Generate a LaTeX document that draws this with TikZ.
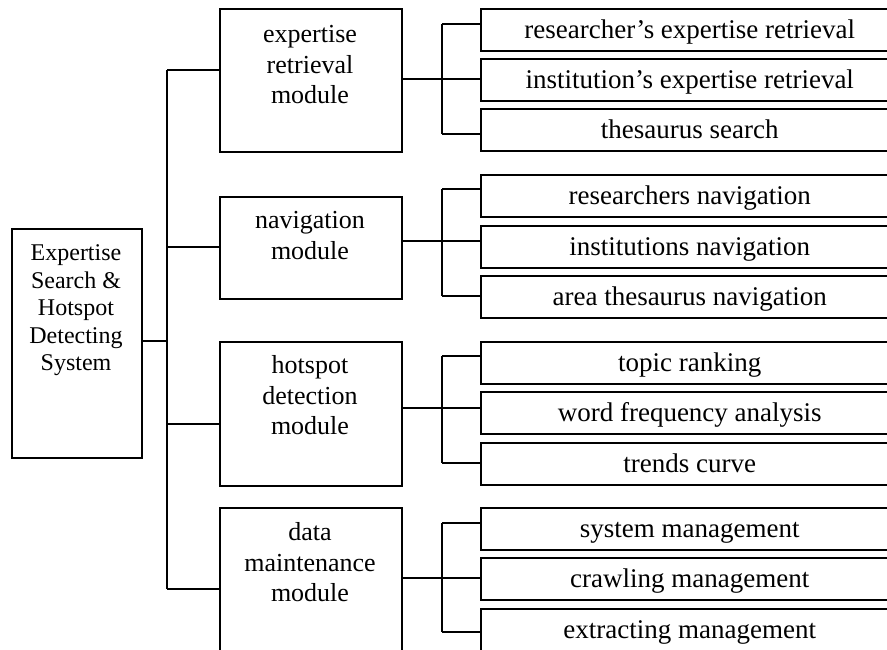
\documentclass[tikz,border=0pt]{standalone}
\usepackage{fontspec}
\setmainfont{Liberation Serif}
\begin{document}
\begin{tikzpicture}[x=1pt,y=-1pt,line width=1.5pt,
  box/.style={draw,rectangle,inner sep=0pt,anchor=north west,minimum width=182pt},
  rootbox/.style={draw,rectangle,inner sep=0pt,anchor=north west,minimum width=130pt,minimum height=229pt},
  modtext/.style={inner sep=0pt,anchor=north,align=center,font=\fontsize{26}{30.5}\selectfont},
  roottext/.style={inner sep=0pt,anchor=north,align=center,font=\fontsize{24}{27.5}\selectfont},
  leaf/.style={draw,rectangle,inner xsep=0pt,inner ysep=0pt,anchor=north west,minimum width=418pt,
    text height=29.5pt,text depth=12.5pt,font=\fontsize{27}{30}\selectfont},
  wire/.style={draw,line width=1.5pt}]
\useasboundingbox (0,0) rectangle (887,649);
\clip (0,0) rectangle (887,649);
% root
\node[rootbox] (root) at (11,228) {};
\node[roottext] (roott) at (76,236) {\rule{0pt}{24pt}Expertise\\Search \&\\Hotspot\\Detecting\\System};
% modules
\node[box,minimum height=143pt] (m1) at (219,8) {};
\node[modtext] (m1t) at (310,18) {\rule{0pt}{24pt}expertise\\retrieval\\module};
\node[box,minimum height=102pt] (m2) at (219,196) {};
\node[modtext] (m2t) at (310,204) {\rule{0pt}{24pt}navigation\\module};
\node[box,minimum height=144pt] (m3) at (219,341) {};
\node[modtext] (m3t) at (310,349) {\rule{0pt}{24pt}hotspot\\detection\\module};
\node[box,minimum height=160pt] (m4) at (219,507) {};
\node[modtext] (m4t) at (310,516) {\rule{0pt}{24pt}data\\maintenance\\module};
% leaves
\node[leaf] (c11) at (480,8) {researcher’s expertise retrieval};
\node[leaf] (c12) at (480,58) {institution’s expertise retrieval};
\node[leaf] (c13) at (480,108) {thesaurus search};
\node[leaf] (c21) at (480,174) {researchers navigation};
\node[leaf] (c22) at (480,225) {institutions navigation};
\node[leaf] (c23) at (480,275) {area thesaurus navigation};
\node[leaf] (c31) at (480,341) {topic ranking};
\node[leaf] (c32) at (480,391) {word frequency analysis};
\node[leaf] (c33) at (480,442) {trends curve};
\node[leaf] (c41) at (480,507) {system management};
\node[leaf] (c42) at (480,557) {crawling management};
\node[leaf] (c43) at (480,608) {extracting management};
% main spine
\coordinate (sp0) at (167,341);
\coordinate (sp1) at (167,70);
\coordinate (sp2) at (167,247);
\coordinate (sp3) at (167,424);
\coordinate (sp4) at (167,589);
\draw[wire] (root.east |- sp0) -- (sp0);
\draw[wire] (sp1) -- (sp4);
\draw[wire] (sp1) -- (sp1 -| m1.west);
\draw[wire] (sp2) -- (sp2 -| m2.west);
\draw[wire] (sp3) -- (sp3 -| m3.west);
\draw[wire] (sp4) -- (sp4 -| m4.west);
% sub spines
\foreach \g/\a/\b/\c in {1/24/79/134, 2/189/241/296, 3/356/408/463, 4/523/578/632}{
  \coordinate (t\g) at (442,\a);
  \coordinate (j\g) at (442,\b);
  \coordinate (b\g) at (442,\c);
  \draw[wire] (t\g) -- (b\g);
  \draw[wire] (m\g.east |- j\g) -- (j\g -| c\g2.west);
  \draw[wire] (t\g) -- (t\g -| c\g1.west);
  \draw[wire] (b\g) -- (b\g -| c\g3.west);
}
\end{tikzpicture}
\end{document}
